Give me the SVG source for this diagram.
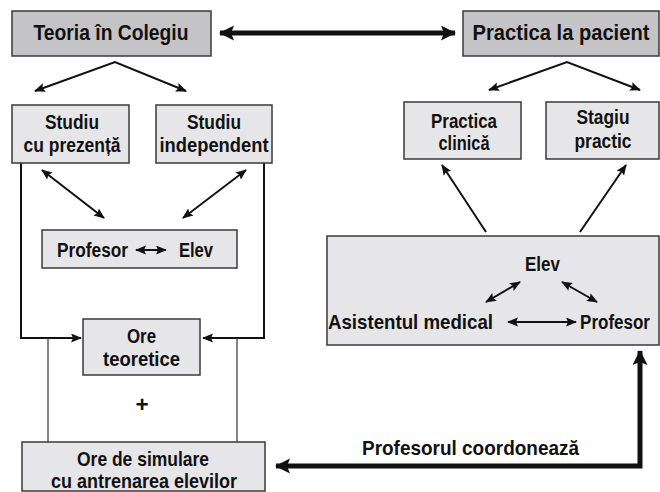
<svg xmlns="http://www.w3.org/2000/svg" width="660" height="492" viewBox="0 0 660 492">
<style>
.dk{fill:#c4c4c6;stroke:#3a3a3a;stroke-width:1.5}
.lt{fill:#e6e6e8;stroke:#3a3a3a;stroke-width:1.5}
text{font-family:"Liberation Sans",Arial,sans-serif;font-weight:bold;fill:#111}
.h{font-size:22.5px}
.t{font-size:20.5px}
.c{stroke:#111;stroke-width:2;fill:none}
.k{stroke:#111;stroke-width:5;fill:none}
.g{stroke:#333;stroke-width:1.2;fill:none}
</style>
<defs>
<marker id="a" markerUnits="userSpaceOnUse" markerWidth="12" markerHeight="10" refX="10" refY="4.5" orient="auto-start-reverse"><path d="M0,0 L11,4.5 L0,9 L2,4.5 z" fill="#111"/></marker>
<marker id="b" markerUnits="userSpaceOnUse" markerWidth="16" markerHeight="16" refX="14" refY="7.5" orient="auto-start-reverse"><path d="M0,0 L15,7.5 L0,15 L3,7.5 z" fill="#111"/></marker>
</defs>
<g id="connectors">
<line class="k" x1="220" y1="33" x2="455" y2="33" marker-start="url(#b)" marker-end="url(#b)"/>
<polyline class="c" points="35,91 115,62 186,91" marker-start="url(#a)" marker-end="url(#a)"/>
<polyline class="c" points="489,90 567,62 640,90" marker-start="url(#a)" marker-end="url(#a)"/>
<line class="c" x1="42" y1="170" x2="104" y2="218" marker-start="url(#a)" marker-end="url(#a)"/>
<line class="c" x1="246" y1="170" x2="183" y2="218" marker-start="url(#a)" marker-end="url(#a)"/>
<polyline class="c" points="21,163 21,338 81,338" marker-end="url(#a)"/>
<polyline class="c" points="264,163 264,338 203,338" marker-end="url(#a)"/>
<line class="g" x1="48" y1="338" x2="48" y2="442"/>
<line class="g" x1="237" y1="338" x2="237" y2="442"/>
<line class="c" x1="486" y1="232" x2="442" y2="165" marker-end="url(#a)"/>
<line class="c" x1="580" y1="232" x2="626" y2="165" marker-end="url(#a)"/>
<polyline class="k" points="276,466 640,466 640,351" marker-start="url(#b)" marker-end="url(#b)"/>
</g>
<g id="teoria"><rect class="dk" x="12" y="11" width="199" height="45"/><text class="h" x="111" y="40" text-anchor="middle" textLength="155" lengthAdjust="spacingAndGlyphs">Teoria în Colegiu</text></g>
<g id="practica-pacient"><rect class="dk" x="463" y="11" width="196" height="45"/><text class="h" text-anchor="middle" transform="translate(561,40) scale(0.895,1)">Practica la pacient</text></g>
<g id="studiu-prezenta"><rect class="lt" x="12" y="105" width="117" height="58"/><text class="t" x="72" y="129" text-anchor="middle" textLength="54" lengthAdjust="spacingAndGlyphs">Studiu</text><text class="t" x="72" y="152" text-anchor="middle" textLength="97" lengthAdjust="spacingAndGlyphs">cu prezență</text></g>
<g id="studiu-independent"><rect class="lt" x="156" y="105" width="116" height="58"/><text class="t" x="214" y="129" text-anchor="middle" textLength="54" lengthAdjust="spacingAndGlyphs">Studiu</text><text class="t" x="214" y="152" text-anchor="middle" textLength="109" lengthAdjust="spacingAndGlyphs">independent</text></g>
<g id="practica-clinica"><rect class="lt" x="404" y="102" width="117" height="57"/><text class="t" x="464" y="128" text-anchor="middle" textLength="66" lengthAdjust="spacingAndGlyphs">Practica</text><text class="t" x="464" y="150" text-anchor="middle" textLength="51" lengthAdjust="spacingAndGlyphs">clinică</text></g>
<g id="stagiu-practic"><rect class="lt" x="546" y="102" width="113" height="57"/><text class="t" x="603" y="124" text-anchor="middle" textLength="53" lengthAdjust="spacingAndGlyphs">Stagiu</text><text class="t" x="603" y="148" text-anchor="middle" textLength="57" lengthAdjust="spacingAndGlyphs">practic</text></g>
<g id="profesor-elev"><rect class="lt" x="42" y="230" width="195" height="38"/><text class="t" x="57" y="257" textLength="71" lengthAdjust="spacingAndGlyphs">Profesor</text><line class="c" x1="136" y1="250" x2="166" y2="250" stroke-width="1.8" marker-start="url(#a)" marker-end="url(#a)"/><text class="t" x="179" y="257" textLength="34" lengthAdjust="spacingAndGlyphs">Elev</text></g>
<g id="ore-teoretice"><rect class="lt" x="83" y="319" width="117" height="56"/><text class="t" x="141.5" y="343" text-anchor="middle" textLength="29" lengthAdjust="spacingAndGlyphs">Ore</text><text class="t" x="141.5" y="366" text-anchor="middle" textLength="77" lengthAdjust="spacingAndGlyphs">teoretice</text></g>
<g id="plus"><text class="h" x="142" y="412" text-anchor="middle">+</text></g>
<g id="ore-simulare"><rect class="lt" x="22" y="442" width="243" height="49"/><text class="t" x="143" y="466" text-anchor="middle" textLength="132" lengthAdjust="spacingAndGlyphs">Ore de simulare</text><text class="t" x="144" y="488" text-anchor="middle" textLength="186" lengthAdjust="spacingAndGlyphs">cu antrenarea elevilor</text></g>
<g id="echipa"><rect class="lt" x="327" y="236" width="332" height="109"/>
<text class="t" x="542.5" y="271" text-anchor="middle" textLength="35" lengthAdjust="spacingAndGlyphs">Elev</text>
<text class="t" x="328" y="329" textLength="165" lengthAdjust="spacingAndGlyphs">Asistentul medical</text>
<text class="t" text-anchor="end" transform="translate(650,329) scale(0.83,1)">Profesor</text>
<line class="c" x1="520" y1="282" x2="486" y2="302" marker-start="url(#a)" marker-end="url(#a)"/>
<line class="c" x1="562" y1="282" x2="597" y2="302" marker-start="url(#a)" marker-end="url(#a)"/>
<line class="c" x1="508" y1="322" x2="576" y2="322" marker-start="url(#a)" marker-end="url(#a)"/>
</g>
<g id="label-coordoneaza"><text class="t" x="362" y="455" textLength="217" lengthAdjust="spacingAndGlyphs">Profesorul coordonează</text></g>
</svg>
